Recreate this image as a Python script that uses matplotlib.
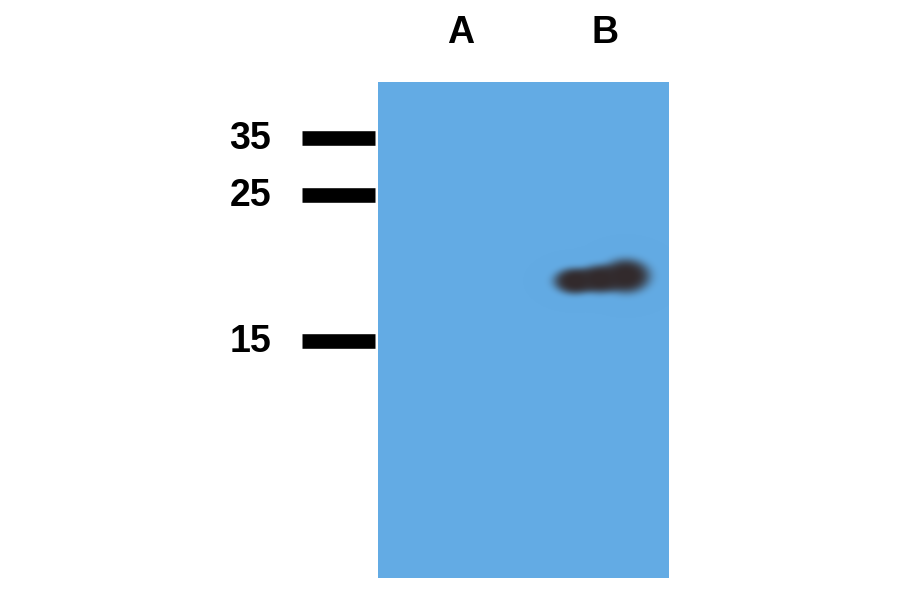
import numpy as np
import matplotlib
matplotlib.use("Agg")
import matplotlib.pyplot as plt

# lanes and molecular weight markers (kDa)
lane_labels = ["A", "B"]
lane_x = [461, 605]
marker_labels = ["35", "25", "15"]
marker_y = [138, 195, 341]

# band in lane B: overlapping lobes (x centre, y centre, half width, half height)
band_x = [575, 600, 626]
band_y = [281, 279, 276]
band_w = [21, 22, 24]
band_h = [13, 14, 17]

# membrane extent (pixels)
blot_left, blot_right = 378, 669
blot_top, blot_bottom = 82, 578

W, H = 900, 594
fig = plt.figure(figsize=(9, 5.94), dpi=100)
ax = fig.add_axes([0, 0, 1, 1])
ax.set_xlim(0, W)
ax.set_ylim(H, 0)
ax.axis("off")

# membrane image
xs = np.arange(blot_left, blot_right) + 0.5
ys = np.arange(blot_top, blot_bottom) + 0.5
X, Y = np.meshgrid(xs, ys)
base = np.array([99, 171, 228]) / 255.0
dark = np.array([50, 42, 44]) / 255.0
keep = np.ones_like(X)
for cx, cy, w, h in zip(band_x, band_y, band_w, band_h):
    r = ((X - cx) / w) ** 2 + ((Y - cy) / h) ** 2
    keep *= 1 - np.exp(-r ** 2)
m = 1 - keep
img = base[None, None, :] * (1 - m[..., None]) + dark[None, None, :] * m[..., None]
ax.imshow(img, extent=(blot_left, blot_right, blot_bottom, blot_top),
          interpolation="bilinear", zorder=1)

# marker bars and labels
for lab, y in zip(marker_labels, marker_y):
    ax.plot([302, 375], [y, y], color="black", lw=10.5, solid_capstyle="butt")
    ax.text(271, y + 1, lab, ha="right", va="center", fontsize=27,
            fontweight="bold", family="Liberation Sans")

for lab, x in zip(lane_labels, lane_x):
    ax.text(x, 33, lab, ha="center", va="center", fontsize=27,
            fontweight="bold", family="Liberation Sans")

fig.savefig("out.png", dpi=100)
